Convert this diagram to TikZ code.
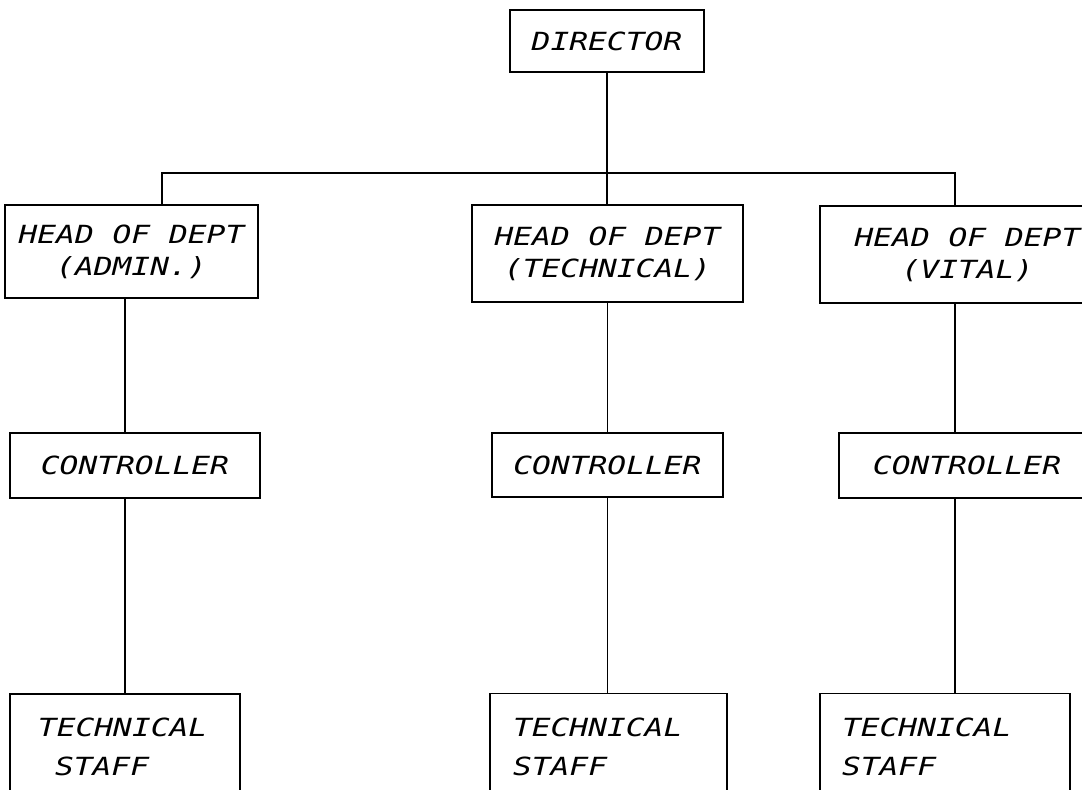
\documentclass[tikz,border=0pt]{standalone}
\usepackage{fontspec}
\setmonofont[FakeStretch=1.25]{DejaVu Sans Mono}
\usetikzlibrary{positioning}

\begin{document}
\begin{tikzpicture}[
    x=0.5pt, y=-0.5pt, line width=0.6pt,
    post/.style={rectangle, draw, align=center, inner sep=0pt,
                 font=\ttfamily\itshape\fontsize{12.5}{16}\selectfont},
    staff/.style={rectangle, draw, align=left, inner ysep=0pt,
                  minimum height=53pt,
                  font=\ttfamily\itshape\fontsize{12.5}{19.5}\selectfont}
]
    \clip (0,0) rectangle (1082,789);

    \node[post, minimum width=97pt, minimum height=31pt] (dir) at (607,41) {DIRECTOR};

    \node[post, minimum width=126.5pt, minimum height=46.5pt] (headadm) at (131.5,251.5)
        {HEAD OF DEPT\\(ADMIN.)};
    \node[post, minimum width=135.5pt, minimum height=48.5pt] (headtec) at (607.5,253.5)
        {HEAD OF DEPT\\(TECHNICAL)};
    \node[post, minimum width=147.5pt, minimum height=48.5pt] (headvit) at (967.5,254.5)
        {HEAD OF DEPT\\(VITAL)};

    \node[post, minimum width=125pt, minimum height=32.5pt] (ctladm) at (135,465.5) {CONTROLLER};
    \node[post, minimum width=115.5pt, minimum height=32pt] (ctltec) at (607.5,465) {CONTROLLER};
    \node[post, minimum width=128pt, minimum height=32.5pt] (ctlvit) at (967,465.5) {CONTROLLER};

    \node[staff, inner xsep=14pt, text width=87pt] (stfadm) at (125,747)
        {TECHNICAL\\\hspace*{8.5pt}STAFF};
    \node[staff, inner xsep=11.5pt, text width=95.5pt] (stftec) at (608.5,746.5)
        {TECHNICAL\\STAFF};
    \node[staff, inner xsep=11pt, text width=103pt] (stfvit) at (945,746.5)
        {TECHNICAL\\STAFF};

    \coordinate (barl) at (162,173);
    \coordinate (barr) at (955,173);

    \draw (dir.south) -- (dir.south |- headtec.north);
    \draw (barl |- headadm.north) -- (barl) -- (barr) -- (barr |- headvit.north);

    \draw (headadm.south -| stfadm) -- (ctladm.north -| stfadm);
    \draw (ctladm.south -| stfadm) -- (stfadm.north);
    \draw (headtec.south) -- (ctltec.north);
    \draw (ctltec.south) -- (ctltec.south |- stftec.north);
    \draw (barr |- headvit.south) -- (barr |- ctlvit.north);
    \draw (barr |- ctlvit.south) -- (barr |- stfvit.north);
\end{tikzpicture}
\end{document}
